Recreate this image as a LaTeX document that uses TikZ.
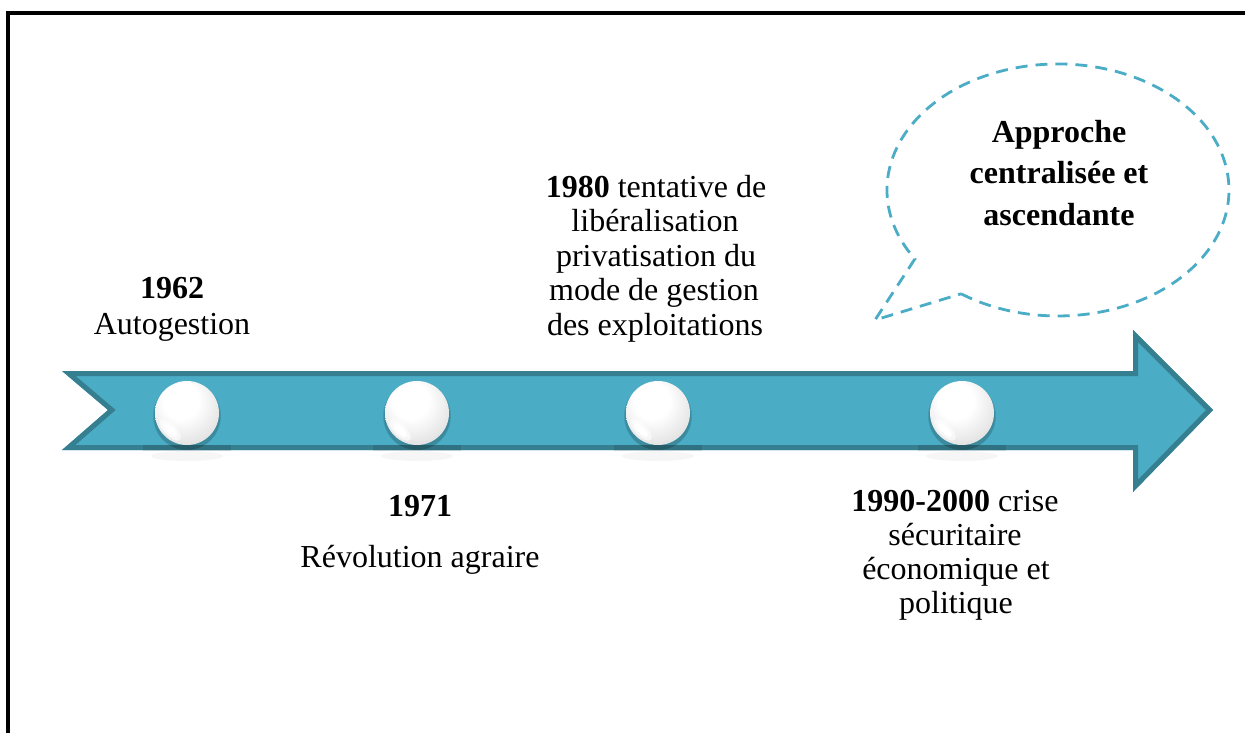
\documentclass[tikz,border=0pt]{standalone}
\usepackage{fontspec}
\setmainfont{Liberation Serif}
\definecolor{arrowfill}{HTML}{4AACC5}
\definecolor{arrowedge}{HTML}{367F91}
\definecolor{bubbleline}{HTML}{4BACC6}
\pgfdeclareradialshading{pearlshade}{\pgfpoint{-6bp}{12bp}}{%
  color(0bp)=(white); color(14bp)=(white); color(30bp)=(black!10);
  color(44bp)=(black!22); color(54bp)=(black!32); color(68bp)=(black!42)}
\begin{document}
\begin{tikzpicture}[x=0.5pt,y=0.5pt,
  txt/.style={anchor=base, inner sep=0pt, font=\fontsize{16}{17}\selectfont},
  pearl/.style={circle, minimum size=32pt, inner sep=0pt, shading=pearlshade},
  bubble/.style={draw=bubbleline, line width=1.4pt, dash pattern=on 6pt off 4pt},
  frame/.style={line width=1.6pt}]
\useasboundingbox (0,0) rectangle (1245,-733);

% outer frame (open to the right and bottom)
\draw[frame] (8,-733) -- (8,-13) -- (1245,-13);

% timeline arrow with inner border
\def\arrowpath{(62,-371) -- (1133,-371) -- (1133,-330) -- (1213,-410) -- (1133,-492) -- (1133,-450) -- (62,-450) -- (108,-410) -- cycle}
\fill[arrowfill] \arrowpath;
\begin{scope}
  \clip \arrowpath;
  \draw[arrowedge, line width=5pt, line join=miter] \arrowpath;
\end{scope}

% pearls on the timeline
\foreach \n/\x in {1/187, 2/417, 3/658, 4/962}{
  % soft shadow under each pearl
  \fill[black, opacity=0.10] (\x-44,-445) rectangle (\x+44,-451);
  \fill[black, opacity=0.035] (\x,-456) ellipse [x radius=36, y radius=5];
  \fill[black, opacity=0.10] (\x,-417) circle (33);
  \fill[black, opacity=0.10] (\x,-416) circle (34);
  \node[pearl] (p\n) at (\x,-413) {};
  \begin{scope}[shift={(p\n.center)}, rotate=-45]
    \fill[white, opacity=0.6] (0,-24) ellipse [x radius=14, y radius=6];
    \fill[white] (0,-24) ellipse [x radius=9, y radius=3.5];
  \end{scope}
}

% labels
\node[txt] (t62a) at (172,-298) {\textbf{1962}};
\node[txt] (t62b) at (172,-334) {Autogestion};

\node[txt] (t71a) at (420,-516) {\textbf{1971}};
\node[txt] (t71b) at (420,-567) {Révolution agraire};

\node[txt] (t80a) at (656,-197) {\textbf{1980} tentative de};
\node[txt] (t80b) at (655,-231) {libéralisation};
\node[txt] (t80c) at (656,-266) {privatisation du};
\node[txt] (t80d) at (654,-300) {mode de gestion};
\node[txt] (t80e) at (655,-335) {des exploitations};

\node[txt] (t90a) at (955,-511) {\textbf{1990-2000} crise};
\node[txt] (t90b) at (955,-545) {sécuritaire};
\node[txt] (t90c) at (956,-579) {économique et};
\node[txt] (t90d) at (956,-613) {politique};

% speech bubble
\coordinate (tail) at (875,-320);
\draw[bubble] (961.1,-293.8) arc[start angle=-124.5, end angle=213.2, x radius=171, y radius=126] -- (tail) -- cycle;
\node[txt] (b1) at (1059,-142) {\textbf{Approche}};
\node[txt] (b2) at (1059,-183) {\textbf{centralisée et}};
\node[txt] (b3) at (1059,-225) {\textbf{ascendante}};
\end{tikzpicture}
\end{document}
